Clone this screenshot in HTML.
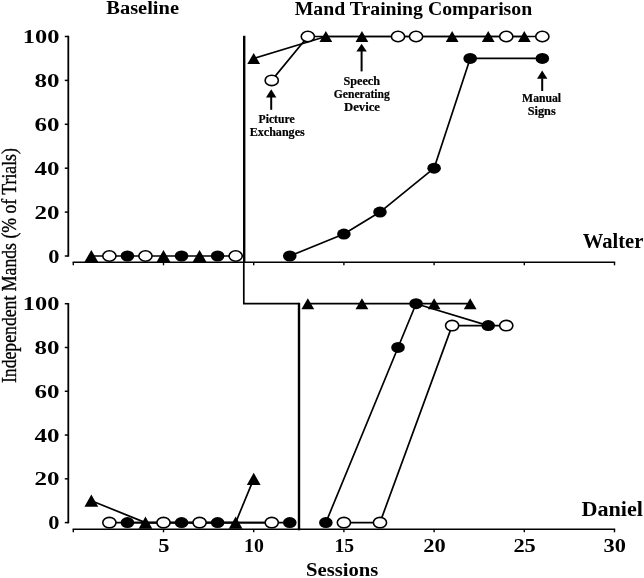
<!DOCTYPE html>
<html><head><meta charset="utf-8"><title>Independent Mands</title>
<style>
html,body{margin:0;padding:0;background:#fff;}
body{width:644px;height:578px;overflow:hidden;}
svg{display:block;}
text{font-family:"Liberation Serif","Times New Roman",serif;fill:#000;}
</style></head>
<body>
<svg width="644" height="578" viewBox="0 0 644 578">
<rect width="644" height="578" fill="#fff"/>
<line x1="68.3" y1="35.80" x2="68.3" y2="256.70" stroke="#000" stroke-width="1.8"/>
<line x1="64.8" y1="256.00" x2="68.3" y2="256.00" stroke="#000" stroke-width="1.5"/>
<line x1="64.8" y1="212.10" x2="68.3" y2="212.10" stroke="#000" stroke-width="1.5"/>
<line x1="64.8" y1="168.20" x2="68.3" y2="168.20" stroke="#000" stroke-width="1.5"/>
<line x1="64.8" y1="124.30" x2="68.3" y2="124.30" stroke="#000" stroke-width="1.5"/>
<line x1="64.8" y1="80.40" x2="68.3" y2="80.40" stroke="#000" stroke-width="1.5"/>
<line x1="64.8" y1="36.50" x2="68.3" y2="36.50" stroke="#000" stroke-width="1.5"/>
<line x1="68.3" y1="303.00" x2="68.3" y2="523.30" stroke="#000" stroke-width="1.8"/>
<line x1="64.8" y1="522.60" x2="68.3" y2="522.60" stroke="#000" stroke-width="1.5"/>
<line x1="64.8" y1="478.82" x2="68.3" y2="478.82" stroke="#000" stroke-width="1.5"/>
<line x1="64.8" y1="435.04" x2="68.3" y2="435.04" stroke="#000" stroke-width="1.5"/>
<line x1="64.8" y1="391.26" x2="68.3" y2="391.26" stroke="#000" stroke-width="1.5"/>
<line x1="64.8" y1="347.48" x2="68.3" y2="347.48" stroke="#000" stroke-width="1.5"/>
<line x1="64.8" y1="303.70" x2="68.3" y2="303.70" stroke="#000" stroke-width="1.5"/>
<line x1="72.60" y1="262.3" x2="615.20" y2="262.3" stroke="#000" stroke-width="1.6"/>
<line x1="73.30" y1="262.3" x2="73.30" y2="265.30" stroke="#000" stroke-width="1.4"/>
<line x1="163.50" y1="262.3" x2="163.50" y2="265.30" stroke="#000" stroke-width="1.4"/>
<line x1="253.70" y1="262.3" x2="253.70" y2="265.30" stroke="#000" stroke-width="1.4"/>
<line x1="343.90" y1="262.3" x2="343.90" y2="265.30" stroke="#000" stroke-width="1.4"/>
<line x1="434.10" y1="262.3" x2="434.10" y2="265.30" stroke="#000" stroke-width="1.4"/>
<line x1="524.30" y1="262.3" x2="524.30" y2="265.30" stroke="#000" stroke-width="1.4"/>
<line x1="614.50" y1="262.3" x2="614.50" y2="265.30" stroke="#000" stroke-width="1.4"/>
<line x1="72.60" y1="529.3" x2="615.20" y2="529.3" stroke="#000" stroke-width="1.6"/>
<line x1="73.30" y1="529.3" x2="73.30" y2="532.30" stroke="#000" stroke-width="1.4"/>
<line x1="163.50" y1="529.3" x2="163.50" y2="532.30" stroke="#000" stroke-width="1.4"/>
<line x1="253.70" y1="529.3" x2="253.70" y2="532.30" stroke="#000" stroke-width="1.4"/>
<line x1="343.90" y1="529.3" x2="343.90" y2="532.30" stroke="#000" stroke-width="1.4"/>
<line x1="434.10" y1="529.3" x2="434.10" y2="532.30" stroke="#000" stroke-width="1.4"/>
<line x1="524.30" y1="529.3" x2="524.30" y2="532.30" stroke="#000" stroke-width="1.4"/>
<line x1="614.50" y1="529.3" x2="614.50" y2="532.30" stroke="#000" stroke-width="1.4"/>
<text x="59.40" y="262.60" font-size="19.5" font-weight="bold" text-anchor="end" textLength="11.2" lengthAdjust="spacingAndGlyphs">0</text>
<text x="59.40" y="218.70" font-size="19.5" font-weight="bold" text-anchor="end" textLength="25.0" lengthAdjust="spacingAndGlyphs">20</text>
<text x="59.40" y="174.80" font-size="19.5" font-weight="bold" text-anchor="end" textLength="25.0" lengthAdjust="spacingAndGlyphs">40</text>
<text x="59.40" y="130.90" font-size="19.5" font-weight="bold" text-anchor="end" textLength="25.0" lengthAdjust="spacingAndGlyphs">60</text>
<text x="59.40" y="87.00" font-size="19.5" font-weight="bold" text-anchor="end" textLength="25.0" lengthAdjust="spacingAndGlyphs">80</text>
<text x="59.40" y="43.10" font-size="19.5" font-weight="bold" text-anchor="end" textLength="36.6" lengthAdjust="spacingAndGlyphs">100</text>
<text x="59.40" y="529.20" font-size="19.5" font-weight="bold" text-anchor="end" textLength="11.2" lengthAdjust="spacingAndGlyphs">0</text>
<text x="59.40" y="485.42" font-size="19.5" font-weight="bold" text-anchor="end" textLength="25.0" lengthAdjust="spacingAndGlyphs">20</text>
<text x="59.40" y="441.64" font-size="19.5" font-weight="bold" text-anchor="end" textLength="25.0" lengthAdjust="spacingAndGlyphs">40</text>
<text x="59.40" y="397.86" font-size="19.5" font-weight="bold" text-anchor="end" textLength="25.0" lengthAdjust="spacingAndGlyphs">60</text>
<text x="59.40" y="354.08" font-size="19.5" font-weight="bold" text-anchor="end" textLength="25.0" lengthAdjust="spacingAndGlyphs">80</text>
<text x="59.40" y="310.30" font-size="19.5" font-weight="bold" text-anchor="end" textLength="36.6" lengthAdjust="spacingAndGlyphs">100</text>
<text x="163.80" y="552.40" font-size="18.5" font-weight="bold" text-anchor="middle" textLength="11.2" lengthAdjust="spacingAndGlyphs">5</text>
<text x="254.00" y="552.40" font-size="18.5" font-weight="bold" text-anchor="middle" textLength="19.8" lengthAdjust="spacingAndGlyphs">10</text>
<text x="344.20" y="552.40" font-size="18.5" font-weight="bold" text-anchor="middle" textLength="19.6" lengthAdjust="spacingAndGlyphs">15</text>
<text x="434.40" y="552.40" font-size="18.5" font-weight="bold" text-anchor="middle" textLength="22.4" lengthAdjust="spacingAndGlyphs">20</text>
<text x="524.60" y="552.40" font-size="18.5" font-weight="bold" text-anchor="middle" textLength="22.4" lengthAdjust="spacingAndGlyphs">25</text>
<text x="614.80" y="552.40" font-size="18.5" font-weight="bold" text-anchor="middle" textLength="22.4" lengthAdjust="spacingAndGlyphs">30</text>
<line x1="244.2" y1="35.8" x2="244.2" y2="262.3" stroke="#000" stroke-width="2.4"/>
<polyline points="243.79999999999998,262 243.79999999999998,303.6 299.0,303.6" fill="none" stroke="#000" stroke-width="1.7"/>
<line x1="299.0" y1="302.8" x2="299.0" y2="530.3" stroke="#000" stroke-width="2.4"/>
<polyline points="91.34,256.00 235.66,256.00" fill="none" stroke="#000" stroke-width="1.7" stroke-linejoin="round"/>
<polyline points="253.70,58.45 325.86,36.50 361.94,36.50 452.14,36.50 488.22,36.50 524.30,36.50" fill="none" stroke="#000" stroke-width="1.7" stroke-linejoin="round"/>
<polyline points="271.74,80.40 307.82,36.50 398.02,36.50 416.06,36.50 506.26,36.50 542.34,36.50" fill="none" stroke="#000" stroke-width="1.7" stroke-linejoin="round"/>
<polyline points="289.78,256.00 343.90,234.05 379.98,212.10 434.10,168.20 470.18,58.45 542.34,58.45" fill="none" stroke="#000" stroke-width="1.7" stroke-linejoin="round"/>
<polygon points="84.44,262.10 98.24,262.10 91.34,249.90" fill="#000"/>
<polygon points="156.60,262.10 170.40,262.10 163.50,249.90" fill="#000"/>
<polygon points="192.68,262.10 206.48,262.10 199.58,249.90" fill="#000"/>
<ellipse cx="109.38" cy="256.00" rx="6.6" ry="5.2" fill="#fff" stroke="#000" stroke-width="1.6"/>
<ellipse cx="145.46" cy="256.00" rx="6.6" ry="5.2" fill="#fff" stroke="#000" stroke-width="1.6"/>
<ellipse cx="235.66" cy="256.00" rx="6.6" ry="5.2" fill="#fff" stroke="#000" stroke-width="1.6"/>
<ellipse cx="127.42" cy="256.00" rx="6.8" ry="5.5" fill="#000"/>
<ellipse cx="181.54" cy="256.00" rx="6.8" ry="5.5" fill="#000"/>
<ellipse cx="217.62" cy="256.00" rx="6.8" ry="5.5" fill="#000"/>
<polygon points="247.30,63.95 260.10,63.95 253.70,52.95" fill="#000"/>
<polygon points="319.46,42.00 332.26,42.00 325.86,31.00" fill="#000"/>
<polygon points="355.54,42.00 368.34,42.00 361.94,31.00" fill="#000"/>
<polygon points="445.74,42.00 458.54,42.00 452.14,31.00" fill="#000"/>
<polygon points="481.82,42.00 494.62,42.00 488.22,31.00" fill="#000"/>
<polygon points="517.90,42.00 530.70,42.00 524.30,31.00" fill="#000"/>
<ellipse cx="271.74" cy="80.40" rx="6.6" ry="5.2" fill="#fff" stroke="#000" stroke-width="1.6"/>
<ellipse cx="307.82" cy="36.50" rx="6.6" ry="5.2" fill="#fff" stroke="#000" stroke-width="1.6"/>
<ellipse cx="398.02" cy="36.50" rx="6.6" ry="5.2" fill="#fff" stroke="#000" stroke-width="1.6"/>
<ellipse cx="416.06" cy="36.50" rx="6.6" ry="5.2" fill="#fff" stroke="#000" stroke-width="1.6"/>
<ellipse cx="506.26" cy="36.50" rx="6.6" ry="5.2" fill="#fff" stroke="#000" stroke-width="1.6"/>
<ellipse cx="542.34" cy="36.50" rx="6.6" ry="5.2" fill="#fff" stroke="#000" stroke-width="1.6"/>
<ellipse cx="289.78" cy="256.00" rx="6.8" ry="5.5" fill="#000"/>
<ellipse cx="343.90" cy="234.05" rx="6.8" ry="5.5" fill="#000"/>
<ellipse cx="379.98" cy="212.10" rx="6.8" ry="5.5" fill="#000"/>
<ellipse cx="434.10" cy="168.20" rx="6.8" ry="5.5" fill="#000"/>
<ellipse cx="470.18" cy="58.45" rx="6.8" ry="5.5" fill="#000"/>
<ellipse cx="542.34" cy="58.45" rx="6.8" ry="5.5" fill="#000"/>
<polyline points="91.34,500.71 145.46,522.60 235.66,522.60 253.70,478.82" fill="none" stroke="#000" stroke-width="1.7" stroke-linejoin="round"/>
<polyline points="109.38,522.60 163.50,522.60 199.58,522.60 271.74,522.60" fill="none" stroke="#000" stroke-width="1.7" stroke-linejoin="round"/>
<polyline points="127.42,522.60 181.54,522.60 217.62,522.60 289.78,522.60" fill="none" stroke="#000" stroke-width="1.7" stroke-linejoin="round"/>
<polyline points="307.82,303.70 361.94,303.70 434.10,303.70 470.18,303.70" fill="none" stroke="#000" stroke-width="1.7" stroke-linejoin="round"/>
<polyline points="325.86,522.60 398.02,347.48 416.06,303.70 488.22,325.59" fill="none" stroke="#000" stroke-width="1.7" stroke-linejoin="round"/>
<polyline points="343.90,522.60 379.98,522.60 452.14,325.59 506.26,325.59" fill="none" stroke="#000" stroke-width="1.7" stroke-linejoin="round"/>
<polygon points="84.44,506.81 98.24,506.81 91.34,494.61" fill="#000"/>
<polygon points="138.56,528.70 152.36,528.70 145.46,516.50" fill="#000"/>
<polygon points="228.76,528.70 242.56,528.70 235.66,516.50" fill="#000"/>
<polygon points="246.80,484.92 260.60,484.92 253.70,472.72" fill="#000"/>
<polygon points="301.42,309.20 314.22,309.20 307.82,298.20" fill="#000"/>
<polygon points="355.54,309.20 368.34,309.20 361.94,298.20" fill="#000"/>
<polygon points="427.70,309.20 440.50,309.20 434.10,298.20" fill="#000"/>
<polygon points="463.78,309.20 476.58,309.20 470.18,298.20" fill="#000"/>
<ellipse cx="109.38" cy="522.60" rx="6.6" ry="5.2" fill="#fff" stroke="#000" stroke-width="1.6"/>
<ellipse cx="163.50" cy="522.60" rx="6.6" ry="5.2" fill="#fff" stroke="#000" stroke-width="1.6"/>
<ellipse cx="199.58" cy="522.60" rx="6.6" ry="5.2" fill="#fff" stroke="#000" stroke-width="1.6"/>
<ellipse cx="271.74" cy="522.60" rx="6.6" ry="5.2" fill="#fff" stroke="#000" stroke-width="1.6"/>
<ellipse cx="343.90" cy="522.60" rx="6.6" ry="5.2" fill="#fff" stroke="#000" stroke-width="1.6"/>
<ellipse cx="379.98" cy="522.60" rx="6.6" ry="5.2" fill="#fff" stroke="#000" stroke-width="1.6"/>
<ellipse cx="452.14" cy="325.59" rx="6.6" ry="5.2" fill="#fff" stroke="#000" stroke-width="1.6"/>
<ellipse cx="506.26" cy="325.59" rx="6.6" ry="5.2" fill="#fff" stroke="#000" stroke-width="1.6"/>
<ellipse cx="127.42" cy="522.60" rx="6.8" ry="5.5" fill="#000"/>
<ellipse cx="181.54" cy="522.60" rx="6.8" ry="5.5" fill="#000"/>
<ellipse cx="217.62" cy="522.60" rx="6.8" ry="5.5" fill="#000"/>
<ellipse cx="289.78" cy="522.60" rx="6.8" ry="5.5" fill="#000"/>
<ellipse cx="325.86" cy="522.60" rx="6.8" ry="5.5" fill="#000"/>
<ellipse cx="398.02" cy="347.48" rx="6.8" ry="5.5" fill="#000"/>
<ellipse cx="416.06" cy="303.70" rx="6.8" ry="5.5" fill="#000"/>
<ellipse cx="488.22" cy="325.59" rx="6.8" ry="5.5" fill="#000"/>
<line x1="271.2" y1="97.0" x2="271.2" y2="109.8" stroke="#000" stroke-width="2"/>
<polygon points="271.2,89.3 276.4,97.5 266.0,97.5" fill="#000"/>
<line x1="361.6" y1="51.1" x2="361.6" y2="71.4" stroke="#000" stroke-width="2"/>
<polygon points="361.6,43.7 366.8,51.6 356.40000000000003,51.6" fill="#000"/>
<line x1="542.2" y1="78.3" x2="542.2" y2="91.0" stroke="#000" stroke-width="2"/>
<polygon points="542.2,70.6 547.4000000000001,78.8 537.0,78.8" fill="#000"/>
<text x="276.60" y="123.40" font-size="11.6" font-weight="bold" text-anchor="middle" textLength="36" lengthAdjust="spacingAndGlyphs" stroke="#000" stroke-width="0.2">Picture</text>
<text x="277.20" y="135.60" font-size="11.6" font-weight="bold" text-anchor="middle" textLength="55" lengthAdjust="spacingAndGlyphs" stroke="#000" stroke-width="0.2">Exchanges</text>
<text x="361.70" y="85.40" font-size="11.6" font-weight="bold" text-anchor="middle" textLength="36.6" lengthAdjust="spacingAndGlyphs" stroke="#000" stroke-width="0.2">Speech</text>
<text x="361.80" y="98.20" font-size="11.6" font-weight="bold" text-anchor="middle" textLength="56" lengthAdjust="spacingAndGlyphs" stroke="#000" stroke-width="0.2">Generating</text>
<text x="362.00" y="110.70" font-size="11.6" font-weight="bold" text-anchor="middle" textLength="36" lengthAdjust="spacingAndGlyphs" stroke="#000" stroke-width="0.2">Device</text>
<text x="541.60" y="102.20" font-size="11.6" font-weight="bold" text-anchor="middle" textLength="39" lengthAdjust="spacingAndGlyphs" stroke="#000" stroke-width="0.2">Manual</text>
<text x="541.70" y="114.70" font-size="11.6" font-weight="bold" text-anchor="middle" textLength="28" lengthAdjust="spacingAndGlyphs" stroke="#000" stroke-width="0.2">Signs</text>
<text x="106.30" y="14.00" font-size="18.5" font-weight="bold" text-anchor="start" textLength="72.7" lengthAdjust="spacingAndGlyphs">Baseline</text>
<text x="294.70" y="15.00" font-size="18.3" font-weight="bold" text-anchor="start" textLength="237.5" lengthAdjust="spacingAndGlyphs">Mand Training Comparison</text>
<text x="582.80" y="247.70" font-size="20.5" font-weight="bold" text-anchor="start" textLength="60.6" lengthAdjust="spacingAndGlyphs">Walter</text>
<text x="581.50" y="515.90" font-size="20.5" font-weight="bold" text-anchor="start" textLength="61.5" lengthAdjust="spacingAndGlyphs">Daniel</text>
<text x="342.20" y="575.80" font-size="18" font-weight="bold" text-anchor="middle" textLength="72.3" lengthAdjust="spacingAndGlyphs">Sessions</text>
<text x="0" y="0" font-size="17.7" font-weight="normal" text-anchor="middle" textLength="235" lengthAdjust="spacingAndGlyphs" stroke="#000" stroke-width="0.3" transform="translate(16.4,265.6) scale(1.13,1) rotate(-90)">Independent Mands (% of Trials)</text>
</svg>
</body></html>
